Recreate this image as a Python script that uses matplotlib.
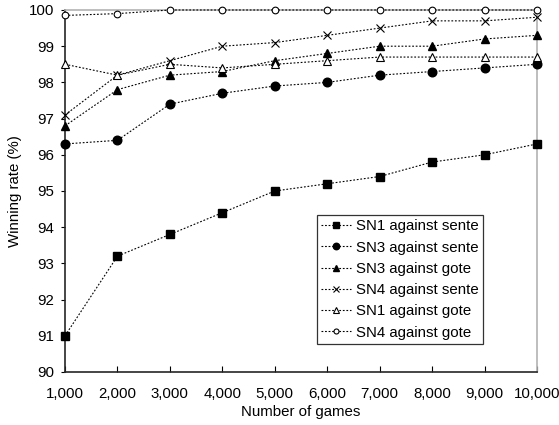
import matplotlib.pyplot as plt

plt.rcParams['font.family'] = ['Liberation Sans', 'DejaVu Sans']

games = [1000, 2000, 3000, 4000, 5000, 6000, 7000, 8000, 9000, 10000]
sn1_sente = [91.0, 93.2, 93.8, 94.4, 95.0, 95.2, 95.4, 95.8, 96.0, 96.3]
sn3_sente = [96.3, 96.4, 97.4, 97.7, 97.9, 98.0, 98.2, 98.3, 98.4, 98.5]
sn3_gote = [96.8, 97.8, 98.2, 98.3, 98.6, 98.8, 99.0, 99.0, 99.2, 99.3]
sn4_sente = [97.1, 98.2, 98.6, 99.0, 99.1, 99.3, 99.5, 99.7, 99.7, 99.8]
sn1_gote = [98.5, 98.2, 98.5, 98.4, 98.5, 98.6, 98.7, 98.7, 98.7, 98.7]
sn4_gote = [99.85, 99.9, 100, 100, 100, 100, 100, 100, 100, 100]

series = [
    ("SN1 against sente", sn1_sente, dict(marker='s', ms=5.8, mfc='black')),
    ("SN3 against sente", sn3_sente, dict(marker='o', ms=6.2, mfc='black')),
    ("SN3 against gote", sn3_gote, dict(marker='^', ms=6.2, mfc='black')),
    ("SN4 against sente", sn4_sente, dict(marker='x', ms=5.5, mew=0.8)),
    ("SN1 against gote", sn1_gote, dict(marker='^', ms=5.2, mfc='white', mew=0.8)),
    ("SN4 against gote", sn4_gote, dict(marker='o', ms=4.8, mfc='white', mew=0.8)),
]

fig = plt.figure(figsize=(5.59, 4.25), dpi=100)
ax = fig.add_axes([65 / 559, 1 - 372 / 425, 472 / 559, 362 / 425])

for label, vals, style in series:
    ax.plot(games, vals, color='black', lw=0.8, ls=(0, (1.6, 1.6)), mec='black',
            label=label, clip_on=False, zorder=3, **style)

ax.set_xlim(1000, 10000)
ax.set_ylim(90, 100)
ax.set_xticks(games)
ax.set_xticklabels([f"{g:,}" for g in games])
ax.set_yticks(range(90, 101))
ax.tick_params(axis='x', direction='in', length=4, labelsize=10.8, pad=11, color='black')
ax.tick_params(axis='y', direction='out', length=3, labelsize=10.8, pad=5)
for s in ['top', 'right']:
    ax.spines[s].set_color('0.7')
    ax.spines[s].set_linewidth(1.2)
for s in ['left', 'bottom']:
    ax.spines[s].set_linewidth(1.2)
    ax.spines[s].set_color('0.15')

ax.set_xlabel("Number of games", fontsize=10.8, labelpad=3)
ax.set_ylabel("Winning rate (%)", fontsize=10.8, labelpad=5)

leg = ax.legend(loc='lower right', bbox_to_anchor=((483 - 65) / 472, (372 - 344) / 362),
                fontsize=10.8, frameon=True, fancybox=False, handlelength=2.0,
                handletextpad=0.3, borderpad=0.3, labelspacing=0.48, borderaxespad=0,
                markerscale=0.75)
leg.get_frame().set_edgecolor('black')
leg.get_frame().set_linewidth(0.9)

fig.savefig("out.png", dpi=100)
